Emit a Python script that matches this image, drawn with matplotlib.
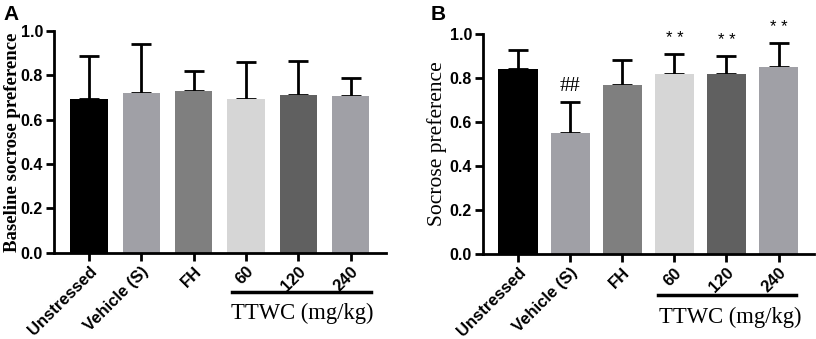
import numpy as np
import matplotlib.pyplot as plt

# groups on the x axis
groups = ['Unstressed', 'Vehicle (S)', 'FH', '60', '120', '240']
bar_colors = ['#000000', '#a0a0a6', '#7f7f7f', '#d6d6d6', '#606060', '#a0a0a6']

# panel A: baseline sucrose preference (mean, upper SD end)
base_mean = [0.695, 0.72, 0.73, 0.695, 0.71, 0.705]
base_top = [0.89, 0.94, 0.82, 0.86, 0.865, 0.79]

# panel B: sucrose preference after stress
pref_mean = [0.84, 0.55, 0.77, 0.82, 0.82, 0.85]
pref_top = [0.925, 0.69, 0.88, 0.91, 0.90, 0.96]
pref_marks = ['', '##', '', '**', '**', '**']

plt.rcParams['font.family'] = 'Liberation Sans'

fig = plt.figure(figsize=(8.16, 3.39), dpi=100)
axA = fig.add_axes([0.0662, 0.255, 0.407, 0.653])
axB = fig.add_axes([0.592, 0.251, 0.4056, 0.649])


def draw_panel(ax, mean, top, bar_w, ylabel, ylabel_weight, ylabel_size, ylabel_x,
               line_y, text_y, line_x):
    x = np.arange(len(groups))
    mean = np.array(mean)
    err = np.array(top) - mean
    ax.bar(x, mean, width=bar_w, color=bar_colors, zorder=2)
    ax.errorbar(x, mean, yerr=[np.zeros_like(err), err], fmt='none',
                ecolor='black', elinewidth=2, capsize=7, capthick=2, zorder=1)
    ax.set_ylim(0, 1.0)
    ax.set_xlim(-0.67, 5.68)
    ax.set_yticks([0.0, 0.2, 0.4, 0.6, 0.8, 1.0])
    ax.set_yticklabels(['0.0', '0.2', '0.4', '0.6', '0.8', '1.0'],
                       fontsize=11.5, fontweight='bold')
    ax.set_xticks(x)
    ax.set_xticklabels(groups, rotation=45, ha='right', rotation_mode='anchor',
                       fontsize=12, fontweight='bold')
    ax.tick_params(width=2, length=6, pad=2)
    for s in ['top', 'right']:
        ax.spines[s].set_visible(False)
    for s in ['left', 'bottom']:
        ax.spines[s].set_linewidth(2)
    ax.set_ylabel(ylabel, family='Liberation Serif', fontsize=ylabel_size,
                  fontweight=ylabel_weight)
    ax.yaxis.set_label_coords(ylabel_x, 0.5)
    # bracket under the TTWC doses
    ax.plot(line_x, [line_y, line_y], color='black', lw=2.5, clip_on=False)
    ax.text(4.08, text_y, 'TTWC (mg/kg)', family='Liberation Serif',
            fontsize=16.3, ha='center', va='center')


draw_panel(axA, base_mean, base_top, 0.71, 'Baseline socrose preference', 'bold',
           13.5, -0.10, -0.178, -0.273, [2.73, 5.40])
draw_panel(axB, pref_mean, pref_top, 0.75, 'Socrose preference', 'normal',
           15.5, -0.11, -0.186, -0.29, [2.68, 5.33])

for i, m in enumerate(pref_marks):
    if m == '##':
        axB.text(i, pref_top[i] + 0.03, m, family='Liberation Serif',
                 fontsize=15, ha='center', va='bottom')
    elif m:
        axB.text(i, pref_top[i] + 0.035, '* *', fontsize=12, ha='center', va='bottom')

fig.text(0.004, 0.985, 'A', fontsize=15, fontweight='bold', va='top')
fig.text(0.528, 0.985, 'B', fontsize=15, fontweight='bold', va='top')

fig.savefig('out.png', dpi=100)
